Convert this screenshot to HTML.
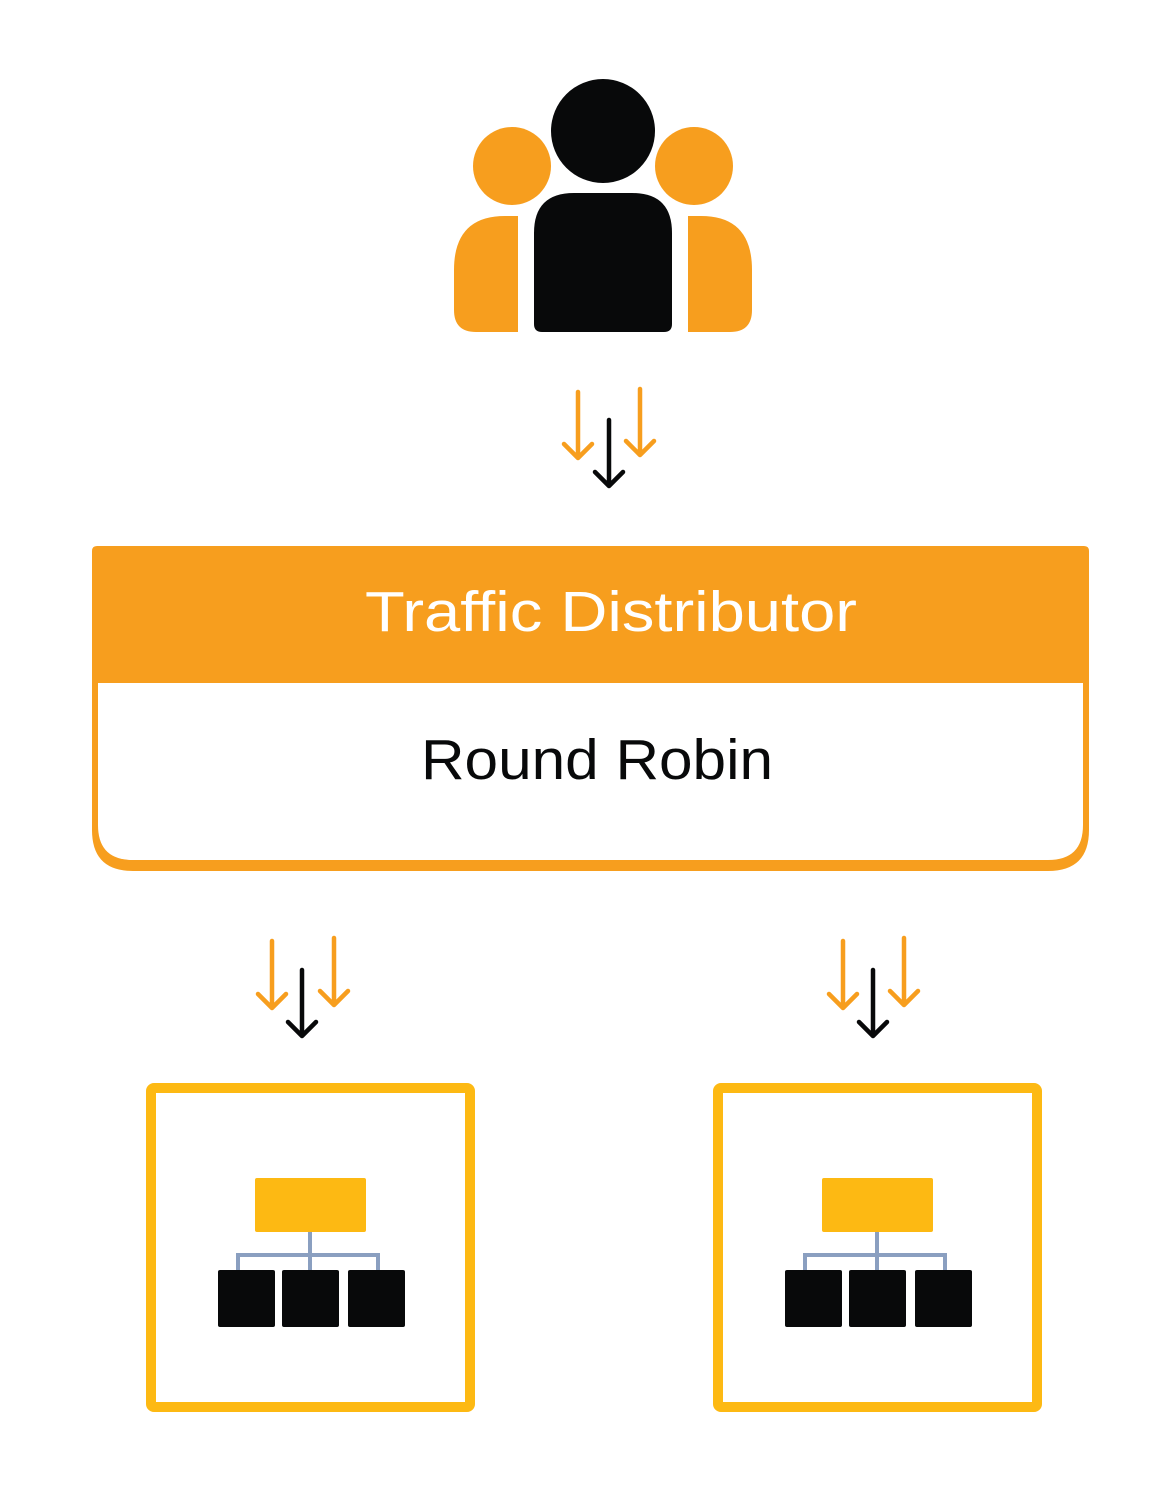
<!DOCTYPE html>
<html><head><meta charset="utf-8"><style>html,body{margin:0;padding:0;background:#fff}svg{display:block}</style></head>
<body>
<svg width="1174" height="1500" viewBox="0 0 1174 1500" xmlns="http://www.w3.org/2000/svg">
<rect width="1174" height="1500" fill="#fff"/>
<circle cx="512" cy="166" r="39" fill="#F79E1E"/>
<circle cx="694" cy="166" r="39" fill="#F79E1E"/>
<path d="M518 216 H505 Q454 216 454 270 V310 Q454 332 476 332 H518 Z" fill="#F79E1E"/>
<path d="M688 216 H701 Q752 216 752 270 V310 Q752 332 730 332 H688 Z" fill="#F79E1E"/>
<circle cx="603" cy="131" r="52" fill="#08090A"/>
<path d="M574 193 H632 Q672 193 672 233 V324 Q672 332 664 332 H542 Q534 332 534 324 V233 Q534 193 574 193 Z" fill="#08090A"/>
<g fill="none" stroke-linecap="round" stroke-linejoin="round" stroke-width="4.5">
<g stroke="#F79E1E"><path d="M578 392 V458 M564 444 L578 458 L592 444"/><path d="M640 389 V455 M626 441 L640 455 L654 441"/></g>
<g stroke="#08090A"><path d="M609 420 V486 M595 472 L609 486 L623 472"/></g>
<g stroke="#F79E1E"><path d="M272 941 V1008 M258 994 L272 1008 L286 994"/><path d="M334 938 V1005 M320 991 L334 1005 L348 991"/></g>
<g stroke="#08090A"><path d="M302 970 V1036 M288 1022 L302 1036 L316 1022"/></g>
<g stroke="#F79E1E"><path d="M843 941 V1008 M829 994 L843 1008 L857 994"/><path d="M904 938 V1005 M890 991 L904 1005 L918 991"/></g>
<g stroke="#08090A"><path d="M873 970 V1036 M859 1022 L873 1036 L887 1022"/></g>
</g>
<path d="M97 546 H1084 Q1089 546 1089 551 V830 Q1089 871 1048 871 H133 Q92 871 92 830 V551 Q92 546 97 546 Z" fill="#F79E1E"/>
<path d="M98 683 H1083 V825 Q1083 860 1048 860 H133 Q98 860 98 825 Z" fill="#fff"/>
<text x="365" y="631" textLength="492" lengthAdjust="spacingAndGlyphs" font-family="Liberation Sans, sans-serif" font-size="57" fill="#fff">Traffic Distributor</text>
<text x="421" y="779" textLength="352" lengthAdjust="spacingAndGlyphs" font-family="Liberation Sans, sans-serif" font-size="57" fill="#08090A">Round Robin</text>
<g>
<rect x="151" y="1088" width="319" height="319" rx="3" fill="#fff" stroke="#FDB913" stroke-width="10"/>
<rect x="255" y="1178" width="111" height="54" rx="2" fill="#FDB913"/>
<path d="M310 1232 V1270 M238 1270 V1255 H378 V1270" fill="none" stroke="#8A9FC0" stroke-width="4"/>
<rect x="218" y="1270" width="57" height="57" rx="2" fill="#08090A"/>
<rect x="282" y="1270" width="57" height="57" rx="2" fill="#08090A"/>
<rect x="348" y="1270" width="57" height="57" rx="2" fill="#08090A"/>
</g>
<g transform="translate(567,0)">
<rect x="151" y="1088" width="319" height="319" rx="3" fill="#fff" stroke="#FDB913" stroke-width="10"/>
<rect x="255" y="1178" width="111" height="54" rx="2" fill="#FDB913"/>
<path d="M310 1232 V1270 M238 1270 V1255 H378 V1270" fill="none" stroke="#8A9FC0" stroke-width="4"/>
<rect x="218" y="1270" width="57" height="57" rx="2" fill="#08090A"/>
<rect x="282" y="1270" width="57" height="57" rx="2" fill="#08090A"/>
<rect x="348" y="1270" width="57" height="57" rx="2" fill="#08090A"/>
</g>
</svg>
</body></html>
